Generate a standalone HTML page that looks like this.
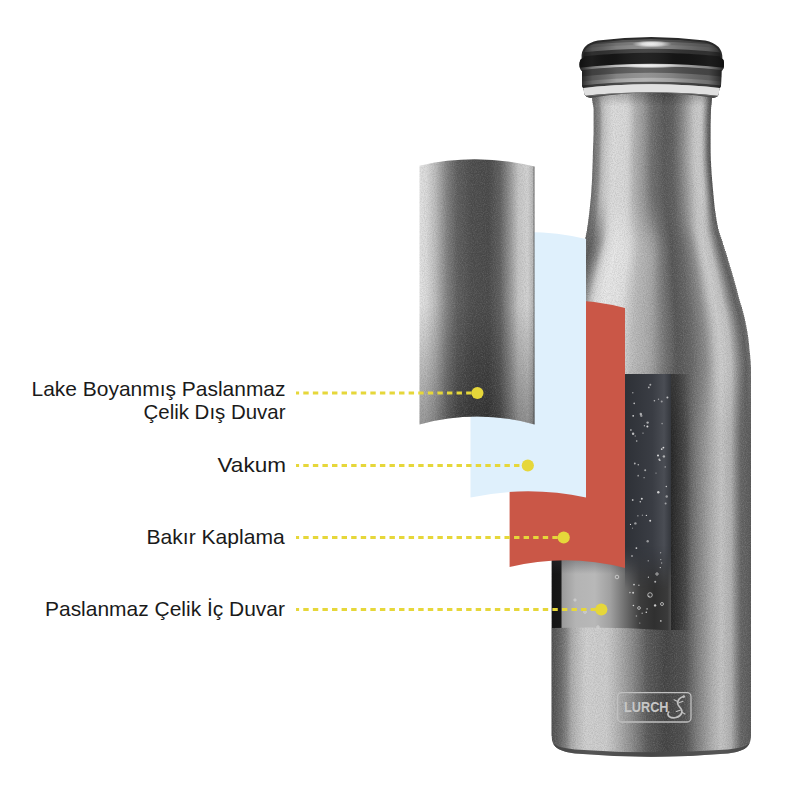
<!DOCTYPE html>
<html><head><meta charset="utf-8">
<style>
html,body{margin:0;padding:0;background:#fff;width:800px;height:800px;overflow:hidden}
svg{display:block}
text{font-family:"Liberation Sans",sans-serif;fill:#1a1a1a}
</style></head><body>
<svg width="800" height="800" viewBox="0 0 800 800">
<defs>
<linearGradient id="bn" x1="0" y1="0" x2="1" y2="0"><stop offset="0.000" stop-color="#6a6a6a"/><stop offset="0.025" stop-color="#7b7b7b"/><stop offset="0.050" stop-color="#8c8c8c"/><stop offset="0.075" stop-color="#b7b7b7"/><stop offset="0.100" stop-color="#c7c7c7"/><stop offset="0.125" stop-color="#d0d0d0"/><stop offset="0.150" stop-color="#d8d8d8"/><stop offset="0.175" stop-color="#dcdcdc"/><stop offset="0.200" stop-color="#dbdbdb"/><stop offset="0.225" stop-color="#dadada"/><stop offset="0.250" stop-color="#d9d9d9"/><stop offset="0.275" stop-color="#d8d8d8"/><stop offset="0.300" stop-color="#d2d2d2"/><stop offset="0.325" stop-color="#c3c3c3"/><stop offset="0.350" stop-color="#b4b4b4"/><stop offset="0.375" stop-color="#ababab"/><stop offset="0.400" stop-color="#a1a1a1"/><stop offset="0.425" stop-color="#989898"/><stop offset="0.450" stop-color="#8b8b8b"/><stop offset="0.475" stop-color="#7d7d7d"/><stop offset="0.500" stop-color="#707070"/><stop offset="0.525" stop-color="#6a6a6a"/><stop offset="0.550" stop-color="#656565"/><stop offset="0.575" stop-color="#606060"/><stop offset="0.600" stop-color="#5a5a5a"/><stop offset="0.625" stop-color="#5b5b5b"/><stop offset="0.650" stop-color="#5d5d5d"/><stop offset="0.675" stop-color="#606060"/><stop offset="0.700" stop-color="#6b6b6b"/><stop offset="0.725" stop-color="#767676"/><stop offset="0.750" stop-color="#848484"/><stop offset="0.775" stop-color="#939393"/><stop offset="0.800" stop-color="#a2a2a2"/><stop offset="0.825" stop-color="#b2b2b2"/><stop offset="0.850" stop-color="#c2c2c2"/><stop offset="0.875" stop-color="#c9c9c9"/><stop offset="0.900" stop-color="#cbcbcb"/><stop offset="0.925" stop-color="#c4c4c4"/><stop offset="0.950" stop-color="#9c9c9c"/><stop offset="0.975" stop-color="#6d6d6d"/><stop offset="1.000" stop-color="#505050"/></linearGradient>
<linearGradient id="bs" x1="0" y1="0" x2="1" y2="0"><stop offset="0.000" stop-color="#606060"/><stop offset="0.025" stop-color="#5e5e5e"/><stop offset="0.050" stop-color="#5b5b5b"/><stop offset="0.075" stop-color="#676767"/><stop offset="0.100" stop-color="#7c7c7c"/><stop offset="0.125" stop-color="#9d9d9d"/><stop offset="0.150" stop-color="#c7c7c7"/><stop offset="0.175" stop-color="#dcdcdc"/><stop offset="0.200" stop-color="#e3e3e3"/><stop offset="0.225" stop-color="#e8e8e8"/><stop offset="0.250" stop-color="#e6e6e6"/><stop offset="0.275" stop-color="#e5e5e5"/><stop offset="0.300" stop-color="#e3e3e3"/><stop offset="0.325" stop-color="#e0e0e0"/><stop offset="0.350" stop-color="#d4d4d4"/><stop offset="0.375" stop-color="#c8c8c8"/><stop offset="0.400" stop-color="#bcbcbc"/><stop offset="0.425" stop-color="#b6b6b6"/><stop offset="0.450" stop-color="#b1b1b1"/><stop offset="0.475" stop-color="#ababab"/><stop offset="0.500" stop-color="#a1a1a1"/><stop offset="0.525" stop-color="#909090"/><stop offset="0.550" stop-color="#7e7e7e"/><stop offset="0.575" stop-color="#707070"/><stop offset="0.600" stop-color="#646464"/><stop offset="0.625" stop-color="#575757"/><stop offset="0.650" stop-color="#5a5a5a"/><stop offset="0.675" stop-color="#606060"/><stop offset="0.700" stop-color="#666666"/><stop offset="0.725" stop-color="#727272"/><stop offset="0.750" stop-color="#7e7e7e"/><stop offset="0.775" stop-color="#8d8d8d"/><stop offset="0.800" stop-color="#a7a7a7"/><stop offset="0.825" stop-color="#c1c1c1"/><stop offset="0.850" stop-color="#cdcdcd"/><stop offset="0.875" stop-color="#c7c7c7"/><stop offset="0.900" stop-color="#c0c0c0"/><stop offset="0.925" stop-color="#9b9b9b"/><stop offset="0.950" stop-color="#777777"/><stop offset="0.975" stop-color="#5f5f5f"/><stop offset="1.000" stop-color="#707070"/></linearGradient>
<linearGradient id="bb" x1="0" y1="0" x2="1" y2="0"><stop offset="0.000" stop-color="#505050"/><stop offset="0.025" stop-color="#5b5b5b"/><stop offset="0.050" stop-color="#6c6c6c"/><stop offset="0.075" stop-color="#858585"/><stop offset="0.100" stop-color="#aaaaaa"/><stop offset="0.125" stop-color="#bababa"/><stop offset="0.150" stop-color="#c6c6c6"/><stop offset="0.175" stop-color="#d0d0d0"/><stop offset="0.200" stop-color="#cfcfcf"/><stop offset="0.225" stop-color="#cecece"/><stop offset="0.250" stop-color="#cdcdcd"/><stop offset="0.275" stop-color="#cccccc"/><stop offset="0.300" stop-color="#c2c2c2"/><stop offset="0.325" stop-color="#b6b6b6"/><stop offset="0.350" stop-color="#a9a9a9"/><stop offset="0.375" stop-color="#9b9b9b"/><stop offset="0.400" stop-color="#8e8e8e"/><stop offset="0.425" stop-color="#7e7e7e"/><stop offset="0.450" stop-color="#6e6e6e"/><stop offset="0.475" stop-color="#5d5d5d"/><stop offset="0.500" stop-color="#555555"/><stop offset="0.525" stop-color="#505050"/><stop offset="0.550" stop-color="#4a4a4a"/><stop offset="0.575" stop-color="#454545"/><stop offset="0.600" stop-color="#484848"/><stop offset="0.625" stop-color="#4b4b4b"/><stop offset="0.650" stop-color="#4e4e4e"/><stop offset="0.675" stop-color="#545454"/><stop offset="0.700" stop-color="#676767"/><stop offset="0.725" stop-color="#7a7a7a"/><stop offset="0.750" stop-color="#8b8b8b"/><stop offset="0.775" stop-color="#9b9b9b"/><stop offset="0.800" stop-color="#acacac"/><stop offset="0.825" stop-color="#b8b8b8"/><stop offset="0.850" stop-color="#c4c4c4"/><stop offset="0.875" stop-color="#bababa"/><stop offset="0.900" stop-color="#b0b0b0"/><stop offset="0.925" stop-color="#888888"/><stop offset="0.950" stop-color="#656565"/><stop offset="0.975" stop-color="#606060"/><stop offset="1.000" stop-color="#5a5a5a"/></linearGradient>
  <linearGradient id="gSilver" x1="419.5" y1="0" x2="534.5" y2="0" gradientUnits="userSpaceOnUse">
    <stop offset="0" stop-color="#e2e2e2"/>
    <stop offset="0.06" stop-color="#dadada"/>
    <stop offset="0.14" stop-color="#bababa"/>
    <stop offset="0.24" stop-color="#808080"/>
    <stop offset="0.33" stop-color="#5e5e5e"/>
    <stop offset="0.45" stop-color="#4e4e4e"/>
    <stop offset="0.6" stop-color="#4a4a4a"/>
    <stop offset="0.7" stop-color="#606060"/>
    <stop offset="0.78" stop-color="#909090"/>
    <stop offset="0.86" stop-color="#c6c6c6"/>
    <stop offset="0.94" stop-color="#d2d2d2"/>
    <stop offset="0.985" stop-color="#b8b8b8"/>
    <stop offset="1" stop-color="#606060"/>
  </linearGradient>
  <linearGradient id="gShadeV" x1="0" y1="159" x2="0" y2="424" gradientUnits="userSpaceOnUse">
    <stop offset="0" stop-color="#000" stop-opacity="0"/>
    <stop offset="0.55" stop-color="#000" stop-opacity="0"/>
    <stop offset="1" stop-color="#000" stop-opacity="0.32"/>
  </linearGradient>
  <linearGradient id="gGlass" x1="552" y1="0" x2="671" y2="0" gradientUnits="userSpaceOnUse">
    <stop offset="0" stop-color="#141414"/>
    <stop offset="0.075" stop-color="#181818"/>
    <stop offset="0.085" stop-color="#9a9a9a"/>
    <stop offset="0.2" stop-color="#b4b4b4"/>
    <stop offset="0.36" stop-color="#b8b8b8"/>
    <stop offset="0.49" stop-color="#a0a0a0"/>
    <stop offset="0.61" stop-color="#707070"/>
    <stop offset="0.74" stop-color="#3c3c3c"/>
    <stop offset="0.86" stop-color="#303030"/>
    <stop offset="0.97" stop-color="#3a3a3a"/>
    <stop offset="1" stop-color="#505050"/>
  </linearGradient>
  <linearGradient id="gGlassTopDark" x1="0" y1="374" x2="0" y2="574" gradientUnits="userSpaceOnUse">
    <stop offset="0" stop-color="#33363d" stop-opacity="1"/>
    <stop offset="0.8" stop-color="#33363d" stop-opacity="1"/>
    <stop offset="1" stop-color="#33363d" stop-opacity="0"/>
  </linearGradient>
  <linearGradient id="gDark" x1="625" y1="0" x2="671" y2="0" gradientUnits="userSpaceOnUse">
    <stop offset="0" stop-color="#2e3137"/>
    <stop offset="0.6" stop-color="#3a3d44"/>
    <stop offset="0.85" stop-color="#4a4d54"/>
    <stop offset="1" stop-color="#34373d"/>
  </linearGradient>
  <linearGradient id="gFadeV" x1="0" y1="374" x2="0" y2="630" gradientUnits="userSpaceOnUse">
    <stop offset="0" stop-color="#fff"/>
    <stop offset="0.67" stop-color="#fff"/>
    <stop offset="0.84" stop-color="#fff" stop-opacity="0"/>
  </linearGradient>
  <mask id="mTopFade" maskUnits="userSpaceOnUse" x="600" y="370" width="100" height="270">
    <rect x="600" y="370" width="100" height="270" fill="url(#gFadeV)"/>
  </mask>
  <linearGradient id="gShadowR" x1="671" y1="0" x2="691" y2="0" gradientUnits="userSpaceOnUse">
    <stop offset="0" stop-color="#000" stop-opacity="0.45"/>
    <stop offset="1" stop-color="#000" stop-opacity="0"/>
  </linearGradient>
  <linearGradient id="gNeckTop" x1="0" y1="92" x2="0" y2="106" gradientUnits="userSpaceOnUse">
    <stop offset="0" stop-color="#000" stop-opacity="0.25"/>
    <stop offset="1" stop-color="#000" stop-opacity="0"/>
  </linearGradient>
  <linearGradient id="gBandV" x1="0" y1="60" x2="0" y2="93" gradientUnits="userSpaceOnUse">
    <stop offset="0" stop-color="#555"/>
    <stop offset="0.3" stop-color="#a8a8a8"/>
    <stop offset="0.42" stop-color="#dcdcdc"/>
    <stop offset="0.55" stop-color="#c8c8c8"/>
    <stop offset="0.72" stop-color="#8a8a8a"/>
    <stop offset="0.9" stop-color="#b0b0b0"/>
    <stop offset="1" stop-color="#777"/>
  </linearGradient>
  <linearGradient id="gDomeV" x1="0" y1="37" x2="0" y2="62" gradientUnits="userSpaceOnUse">
    <stop offset="0" stop-color="#777"/>
    <stop offset="0.2" stop-color="#c8c8c8"/>
    <stop offset="0.45" stop-color="#e0e0e0"/>
    <stop offset="0.7" stop-color="#a0a0a0"/>
    <stop offset="1" stop-color="#666"/>
  </linearGradient>
  <linearGradient id="gEdgeH" x1="581" y1="0" x2="723" y2="0" gradientUnits="userSpaceOnUse">
    <stop offset="0" stop-color="#111" stop-opacity="0.85"/>
    <stop offset="0.08" stop-color="#222" stop-opacity="0.5"/>
    <stop offset="0.25" stop-color="#000" stop-opacity="0.08"/>
    <stop offset="0.45" stop-color="#fff" stop-opacity="0.05"/>
    <stop offset="0.65" stop-color="#000" stop-opacity="0.1"/>
    <stop offset="0.9" stop-color="#222" stop-opacity="0.45"/>
    <stop offset="1" stop-color="#111" stop-opacity="0.85"/>
  </linearGradient>
  <linearGradient id="gBottom" x1="551" y1="0" x2="751.5" y2="0" gradientUnits="userSpaceOnUse">
    <stop offset="0" stop-color="#444"/>
    <stop offset="0.2" stop-color="#555"/>
    <stop offset="0.5" stop-color="#474747"/>
    <stop offset="0.85" stop-color="#555"/>
    <stop offset="1" stop-color="#444"/>
  </linearGradient>
  <linearGradient id="gCap" x1="581" y1="0" x2="723" y2="0" gradientUnits="userSpaceOnUse">
    <stop offset="0" stop-color="#333"/>
    <stop offset="0.1" stop-color="#888"/>
    <stop offset="0.3" stop-color="#ccc"/>
    <stop offset="0.5" stop-color="#e8e8e8"/>
    <stop offset="0.7" stop-color="#aaa"/>
    <stop offset="0.9" stop-color="#777"/>
    <stop offset="1" stop-color="#333"/>
  </linearGradient>
  <filter id="fNoise" x="0" y="0" width="100%" height="100%" filterUnits="objectBoundingBox">
    <feTurbulence type="fractalNoise" baseFrequency="0.9" numOctaves="2" seed="3" result="n"/>
    <feColorMatrix in="n" type="matrix" values="0 0 0 0 0  0 0 0 0 0  0 0 0 0 0  1.6 0 0 0 -0.55"/>
  </filter>
  <filter id="fNoise2" x="0" y="0" width="100%" height="100%" filterUnits="objectBoundingBox">
    <feTurbulence type="fractalNoise" baseFrequency="0.9" numOctaves="2" seed="5" result="n"/>
    <feColorMatrix in="n" type="matrix" values="0 0 0 0 1  0 0 0 0 1  0 0 0 0 1  0 1.6 0 0 -0.62"/>
  </filter>
  <radialGradient id="gHi" cx="0.5" cy="0.5" r="0.5">
    <stop offset="0" stop-color="#f4f4f4" stop-opacity="1"/>
    <stop offset="0.5" stop-color="#f0f0f0" stop-opacity="0.8"/>
    <stop offset="1" stop-color="#f0f0f0" stop-opacity="0"/>
  </radialGradient>
  <clipPath id="cpOutline"><path d="M592.0,89 L592.0,93 L592.0,97 L592.2,101 L593.0,105 L593.6,109 L593.6,113 L593.6,117 L593.6,121 L593.6,125 L593.6,129 L593.6,133 L593.5,137 L593.3,141 L593.2,145 L593.0,149 L592.9,153 L592.8,157 L592.7,161 L592.6,165 L592.4,169 L592.3,173 L592.1,177 L591.9,181 L591.7,185 L591.5,189 L591.2,193 L590.9,197 L590.5,201 L590.1,205 L589.7,209 L589.3,213 L588.8,217 L588.3,221 L587.8,225 L587.2,229 L586.5,233 L585.7,237 L584.7,241 L583.5,245 L582.2,249 L580.7,253 L579.3,257 L577.8,261 L576.3,265 L574.9,269 L573.5,273 L572.1,277 L570.8,281 L569.5,285 L568.3,289 L567.1,293 L565.9,297 L564.7,301 L563.5,305 L562.3,309 L561.2,313 L560.2,317 L559.2,321 L558.2,325 L557.2,329 L556.5,333 L555.9,337 L555.3,341 L554.7,345 L554.1,349 L553.7,353 L553.3,357 L552.9,361 L552.4,365 L552.0,369 L551.9,373 L551.8,377 L551.7,381 L551.6,385 L551.6,389 L551.5,393 L551.5,397 L551.5,401 L551.5,405 L551.5,409 L551.5,413 L551.5,417 L551.5,421 L551.5,425 L551.5,429 L551.5,433 L551.5,437 L551.5,441 L551.5,445 L551.5,449 L551.5,453 L551.5,457 L551.5,461 L551.5,465 L551.5,469 L551.5,473 L551.5,477 L551.5,481 L551.5,485 L551.5,489 L551.5,493 L551.5,497 L551.5,501 L551.5,505 L551.5,509 L551.5,513 L551.5,517 L551.5,521 L551.5,525 L551.5,529 L551.5,533 L551.5,537 L551.5,541 L551.5,545 L551.5,549 L551.5,553 L551.5,557 L551.5,561 L551.5,565 L551.5,569 L551.5,573 L551.5,577 L551.5,581 L551.5,585 L551.5,589 L551.5,593 L551.5,597 L551.5,601 L551.5,605 L551.5,609 L551.5,613 L551.5,617 L551.5,621 L551.5,625 L551.5,629 L551.5,633 L551.5,637 L551.5,641 L551.5,645 L551.5,649 L551.5,653 L551.5,657 L551.5,661 L551.5,665 L551.5,669 L551.5,673 L551.5,677 L551.5,681 L551.5,685 L551.5,689 L551.5,693 L551.5,697 L551.5,701 L551.5,705 L551.5,709 L551.5,713 L551.5,717 L551.5,721 L551.5,725 L551.5,729 L551.5,733 C551.5,747 558,751 575,753.5 Q651,760 728,753.5 C745,751 750.5,747 751,736 L751.0,733 L751.0,729 L751.0,725 L751.0,721 L751.0,717 L751.0,713 L751.0,709 L751.0,705 L751.0,701 L751.0,697 L751.0,693 L751.0,689 L751.0,685 L751.0,681 L751.0,677 L751.0,673 L751.0,669 L751.0,665 L751.0,661 L751.0,657 L751.0,653 L751.0,649 L751.0,645 L751.0,641 L751.0,637 L751.0,633 L751.0,629 L751.0,625 L751.0,621 L751.0,617 L751.0,613 L751.0,609 L751.0,605 L751.0,601 L751.0,597 L751.0,593 L751.0,589 L751.0,585 L751.0,581 L751.0,577 L751.0,573 L751.0,569 L751.0,565 L751.0,561 L751.0,557 L751.0,553 L751.0,549 L751.0,545 L751.0,541 L751.0,537 L751.0,533 L751.0,529 L751.0,525 L751.0,521 L751.0,517 L751.0,513 L751.0,509 L751.0,505 L751.0,501 L751.0,497 L751.0,493 L751.0,489 L751.0,485 L751.0,481 L751.0,477 L751.0,473 L751.0,469 L751.0,465 L751.0,461 L751.0,457 L751.0,453 L751.0,449 L751.0,445 L751.0,441 L751.0,437 L751.0,433 L751.0,429 L751.0,425 L751.0,421 L751.0,417 L751.0,413 L751.0,409 L751.0,405 L751.0,401 L751.0,397 L751.0,393 L751.0,389 L751.0,385 L751.0,381 L751.0,377 L751.0,373 L751.0,369 L750.8,365 L750.6,361 L750.2,357 L749.8,353 L749.4,349 L749.0,345 L748.6,341 L748.1,337 L747.5,333 L746.8,329 L746.1,325 L745.2,321 L744.3,317 L743.3,313 L742.2,309 L741.0,305 L739.8,301 L738.7,297 L737.6,293 L736.6,289 L735.5,285 L734.4,281 L733.3,277 L732.1,273 L730.9,269 L729.7,265 L728.4,261 L727.1,257 L725.9,253 L724.6,249 L723.3,245 L722.0,241 L720.7,237 L719.3,233 L718.3,229 L717.4,225 L716.7,221 L716.0,217 L715.4,213 L714.9,209 L714.4,205 L714.0,201 L713.6,197 L713.3,193 L712.9,189 L712.5,185 L712.2,181 L711.9,177 L711.6,173 L711.3,169 L711.1,165 L710.9,161 L710.7,157 L710.6,153 L710.6,149 L710.6,145 L710.6,141 L710.6,137 L710.6,133 L710.6,129 L710.6,125 L710.7,121 L710.8,117 L710.9,113 L711.0,109 L711.4,105 L711.9,101 L712.0,97 L712.0,93 L712.0,89 Z"/></clipPath>
  <clipPath id="cpBottle">
    <path d="M540,80 H770 V736 H751 C750.5,747 745,751 728,753.5 Q651,760 575,753.5 C558,751 552,747 551.5,736 H540 Z"/>
  </clipPath>
</defs>

<!-- bottle body slices -->
<g clip-path="url(#cpBottle)">
<rect x="592.0" y="89" width="120.0" height="2" fill="url(#bn)"/>
<rect x="592.0" y="91" width="120.0" height="2" fill="url(#bn)"/>
<rect x="592.0" y="93" width="120.0" height="2" fill="url(#bn)"/>
<rect x="592.0" y="95" width="120.0" height="2" fill="url(#bn)"/>
<rect x="592.0" y="97" width="120.0" height="2" fill="url(#bn)"/>
<rect x="592.1" y="99" width="119.8" height="2" fill="url(#bn)"/>
<rect x="592.4" y="101" width="119.4" height="2" fill="url(#bn)"/>
<rect x="592.8" y="103" width="118.8" height="2" fill="url(#bn)"/>
<rect x="593.2" y="105" width="118.1" height="2" fill="url(#bn)"/>
<rect x="593.5" y="107" width="117.6" height="2" fill="url(#bn)"/>
<rect x="593.6" y="109" width="117.4" height="2" fill="url(#bn)"/>
<rect x="593.6" y="111" width="117.3" height="2" fill="url(#bn)"/>
<rect x="593.6" y="113" width="117.3" height="2" fill="url(#bn)"/>
<rect x="593.6" y="115" width="117.2" height="2" fill="url(#bn)"/>
<rect x="593.6" y="117" width="117.2" height="2" fill="url(#bn)"/>
<rect x="593.6" y="119" width="117.1" height="2" fill="url(#bn)"/>
<rect x="593.6" y="121" width="117.1" height="2" fill="url(#bn)"/>
<rect x="593.6" y="123" width="117.0" height="2" fill="url(#bn)"/>
<rect x="593.6" y="125" width="117.0" height="2" fill="url(#bn)"/>
<rect x="593.6" y="127" width="117.0" height="2" fill="url(#bn)"/>
<rect x="593.6" y="129" width="117.0" height="2" fill="url(#bn)"/>
<rect x="593.6" y="131" width="117.0" height="2" fill="url(#bn)"/>
<rect x="593.6" y="133" width="117.0" height="2" fill="url(#bn)"/>
<rect x="593.5" y="135" width="117.1" height="2" fill="url(#bn)"/>
<rect x="593.4" y="137" width="117.2" height="2" fill="url(#bn)"/>
<rect x="593.4" y="139" width="117.2" height="2" fill="url(#bn)"/>
<rect x="593.3" y="141" width="117.3" height="2" fill="url(#bn)"/>
<rect x="593.2" y="143" width="117.4" height="2" fill="url(#bn)"/>
<rect x="593.1" y="145" width="117.5" height="2" fill="url(#bn)"/>
<rect x="593.1" y="147" width="117.5" height="2" fill="url(#bn)"/>
<rect x="593.0" y="149" width="117.6" height="2" fill="url(#bn)"/>
<rect x="592.9" y="151" width="117.7" height="2" fill="url(#bn)"/>
<rect x="592.9" y="153" width="117.8" height="2" fill="url(#bn)"/>
<rect x="592.8" y="155" width="117.9" height="2" fill="url(#bn)"/>
<rect x="592.8" y="157" width="118.0" height="2" fill="url(#bn)"/>
<rect x="592.7" y="159" width="118.1" height="2" fill="url(#bn)"/>
<rect x="592.7" y="161" width="118.3" height="2" fill="url(#bn)"/>
<rect x="592.6" y="163" width="118.5" height="2" fill="url(#bn)"/>
<rect x="592.5" y="165" width="118.6" height="2" fill="url(#bn)"/>
<rect x="592.5" y="167" width="118.8" height="2" fill="url(#bn)"/>
<rect x="592.4" y="169" width="119.0" height="2" fill="url(#bn)"/>
<rect x="592.3" y="171" width="119.2" height="2" fill="url(#bn)"/>
<rect x="592.2" y="173" width="119.4" height="2" fill="url(#bn)"/>
<rect x="592.2" y="175" width="119.6" height="2" fill="url(#bn)"/>
<rect x="592.1" y="177" width="119.9" height="2" fill="url(#bn)"/>
<rect x="592.0" y="179" width="120.1" height="2" fill="url(#bn)"/>
<rect x="591.9" y="181" width="120.4" height="2" fill="url(#bn)"/>
<rect x="591.8" y="183" width="120.7" height="2" fill="url(#bn)"/>
<rect x="591.6" y="185" width="121.0" height="2" fill="url(#bn)"/>
<rect x="591.5" y="187" width="121.3" height="2" fill="url(#bn)"/>
<rect x="591.4" y="189" width="121.6" height="2" fill="url(#bn)"/>
<rect x="591.3" y="191" width="121.9" height="2" fill="url(#bn)"/>
<rect x="591.3" y="191" width="121.9" height="2" fill="url(#bs)" fill-opacity="0.002"/>
<rect x="591.1" y="193" width="122.2" height="2" fill="url(#bn)"/>
<rect x="591.1" y="193" width="122.2" height="2" fill="url(#bs)" fill-opacity="0.009"/>
<rect x="591.0" y="195" width="122.6" height="2" fill="url(#bn)"/>
<rect x="591.0" y="195" width="122.6" height="2" fill="url(#bs)" fill-opacity="0.021"/>
<rect x="590.8" y="197" width="122.9" height="2" fill="url(#bn)"/>
<rect x="590.8" y="197" width="122.9" height="2" fill="url(#bs)" fill-opacity="0.036"/>
<rect x="590.6" y="199" width="123.3" height="2" fill="url(#bn)"/>
<rect x="590.6" y="199" width="123.3" height="2" fill="url(#bs)" fill-opacity="0.055"/>
<rect x="590.4" y="201" width="123.7" height="2" fill="url(#bn)"/>
<rect x="590.4" y="201" width="123.7" height="2" fill="url(#bs)" fill-opacity="0.078"/>
<rect x="590.2" y="203" width="124.1" height="2" fill="url(#bn)"/>
<rect x="590.2" y="203" width="124.1" height="2" fill="url(#bs)" fill-opacity="0.104"/>
<rect x="590.0" y="205" width="124.5" height="2" fill="url(#bn)"/>
<rect x="590.0" y="205" width="124.5" height="2" fill="url(#bs)" fill-opacity="0.133"/>
<rect x="589.8" y="207" width="124.9" height="2" fill="url(#bn)"/>
<rect x="589.8" y="207" width="124.9" height="2" fill="url(#bs)" fill-opacity="0.164"/>
<rect x="589.6" y="209" width="125.4" height="2" fill="url(#bn)"/>
<rect x="589.6" y="209" width="125.4" height="2" fill="url(#bs)" fill-opacity="0.198"/>
<rect x="589.4" y="211" width="125.9" height="2" fill="url(#bn)"/>
<rect x="589.4" y="211" width="125.9" height="2" fill="url(#bs)" fill-opacity="0.234"/>
<rect x="589.2" y="213" width="126.4" height="2" fill="url(#bn)"/>
<rect x="589.2" y="213" width="126.4" height="2" fill="url(#bs)" fill-opacity="0.272"/>
<rect x="588.9" y="215" width="126.9" height="2" fill="url(#bn)"/>
<rect x="588.9" y="215" width="126.9" height="2" fill="url(#bs)" fill-opacity="0.311"/>
<rect x="588.7" y="217" width="127.5" height="2" fill="url(#bn)"/>
<rect x="588.7" y="217" width="127.5" height="2" fill="url(#bs)" fill-opacity="0.352"/>
<rect x="588.4" y="219" width="128.0" height="2" fill="url(#bn)"/>
<rect x="588.4" y="219" width="128.0" height="2" fill="url(#bs)" fill-opacity="0.394"/>
<rect x="588.2" y="221" width="128.7" height="2" fill="url(#bn)"/>
<rect x="588.2" y="221" width="128.7" height="2" fill="url(#bs)" fill-opacity="0.436"/>
<rect x="587.9" y="223" width="129.3" height="2" fill="url(#bn)"/>
<rect x="587.9" y="223" width="129.3" height="2" fill="url(#bs)" fill-opacity="0.479"/>
<rect x="587.6" y="225" width="130.0" height="2" fill="url(#bn)"/>
<rect x="587.6" y="225" width="130.0" height="2" fill="url(#bs)" fill-opacity="0.521"/>
<rect x="587.3" y="227" width="130.7" height="2" fill="url(#bn)"/>
<rect x="587.3" y="227" width="130.7" height="2" fill="url(#bs)" fill-opacity="0.564"/>
<rect x="587.0" y="229" width="131.5" height="2" fill="url(#bn)"/>
<rect x="587.0" y="229" width="131.5" height="2" fill="url(#bs)" fill-opacity="0.606"/>
<rect x="586.7" y="231" width="132.4" height="2" fill="url(#bn)"/>
<rect x="586.7" y="231" width="132.4" height="2" fill="url(#bs)" fill-opacity="0.648"/>
<rect x="586.3" y="233" width="133.4" height="2" fill="url(#bn)"/>
<rect x="586.3" y="233" width="133.4" height="2" fill="url(#bs)" fill-opacity="0.689"/>
<rect x="585.9" y="235" width="134.4" height="2" fill="url(#bn)"/>
<rect x="585.9" y="235" width="134.4" height="2" fill="url(#bs)" fill-opacity="0.728"/>
<rect x="585.5" y="237" width="135.6" height="2" fill="url(#bn)"/>
<rect x="585.5" y="237" width="135.6" height="2" fill="url(#bs)" fill-opacity="0.766"/>
<rect x="585.0" y="239" width="136.7" height="2" fill="url(#bn)"/>
<rect x="585.0" y="239" width="136.7" height="2" fill="url(#bs)" fill-opacity="0.802"/>
<rect x="584.5" y="241" width="137.9" height="2" fill="url(#bn)"/>
<rect x="584.5" y="241" width="137.9" height="2" fill="url(#bs)" fill-opacity="0.836"/>
<rect x="583.9" y="243" width="139.1" height="2" fill="url(#bn)"/>
<rect x="583.9" y="243" width="139.1" height="2" fill="url(#bs)" fill-opacity="0.867"/>
<rect x="583.2" y="245" width="140.4" height="2" fill="url(#bn)"/>
<rect x="583.2" y="245" width="140.4" height="2" fill="url(#bs)" fill-opacity="0.896"/>
<rect x="582.5" y="247" width="141.7" height="2" fill="url(#bn)"/>
<rect x="582.5" y="247" width="141.7" height="2" fill="url(#bs)" fill-opacity="0.922"/>
<rect x="581.8" y="249" width="143.1" height="2" fill="url(#bn)"/>
<rect x="581.8" y="249" width="143.1" height="2" fill="url(#bs)" fill-opacity="0.945"/>
<rect x="581.1" y="251" width="144.5" height="2" fill="url(#bn)"/>
<rect x="581.1" y="251" width="144.5" height="2" fill="url(#bs)" fill-opacity="0.964"/>
<rect x="580.4" y="253" width="145.8" height="2" fill="url(#bn)"/>
<rect x="580.4" y="253" width="145.8" height="2" fill="url(#bs)" fill-opacity="0.979"/>
<rect x="579.6" y="255" width="147.2" height="2" fill="url(#bn)"/>
<rect x="579.6" y="255" width="147.2" height="2" fill="url(#bs)" fill-opacity="0.991"/>
<rect x="578.9" y="257" width="148.5" height="2" fill="url(#bn)"/>
<rect x="578.9" y="257" width="148.5" height="2" fill="url(#bs)" fill-opacity="0.998"/>
<rect x="578.2" y="259" width="149.9" height="2" fill="url(#bs)"/>
<rect x="577.4" y="261" width="151.3" height="2" fill="url(#bs)"/>
<rect x="576.7" y="263" width="152.7" height="2" fill="url(#bs)"/>
<rect x="575.9" y="265" width="154.0" height="2" fill="url(#bs)"/>
<rect x="575.2" y="267" width="155.4" height="2" fill="url(#bs)"/>
<rect x="574.5" y="269" width="156.7" height="2" fill="url(#bs)"/>
<rect x="573.8" y="271" width="158.0" height="2" fill="url(#bs)"/>
<rect x="573.1" y="273" width="159.3" height="2" fill="url(#bs)"/>
<rect x="572.4" y="275" width="160.5" height="2" fill="url(#bs)"/>
<rect x="571.8" y="277" width="161.8" height="2" fill="url(#bs)"/>
<rect x="571.1" y="279" width="163.0" height="2" fill="url(#bs)"/>
<rect x="570.5" y="281" width="164.2" height="2" fill="url(#bs)"/>
<rect x="569.8" y="283" width="165.4" height="2" fill="url(#bs)"/>
<rect x="569.2" y="285" width="166.6" height="2" fill="url(#bs)"/>
<rect x="568.6" y="287" width="167.7" height="2" fill="url(#bs)"/>
<rect x="568.0" y="289" width="168.9" height="2" fill="url(#bs)"/>
<rect x="567.4" y="291" width="170.0" height="2" fill="url(#bs)"/>
<rect x="566.8" y="293" width="171.1" height="2" fill="url(#bs)"/>
<rect x="566.2" y="295" width="172.2" height="2" fill="url(#bs)"/>
<rect x="565.6" y="297" width="173.3" height="2" fill="url(#bs)"/>
<rect x="565.0" y="299" width="174.5" height="2" fill="url(#bs)"/>
<rect x="564.4" y="301" width="175.7" height="2" fill="url(#bs)"/>
<rect x="563.8" y="303" width="176.9" height="2" fill="url(#bs)"/>
<rect x="563.2" y="305" width="178.2" height="2" fill="url(#bs)"/>
<rect x="562.6" y="307" width="179.4" height="2" fill="url(#bs)"/>
<rect x="562.0" y="309" width="180.5" height="2" fill="url(#bs)"/>
<rect x="561.5" y="311" width="181.6" height="2" fill="url(#bs)"/>
<rect x="561.0" y="313" width="182.6" height="2" fill="url(#bs)"/>
<rect x="560.5" y="315" width="183.6" height="2" fill="url(#bs)"/>
<rect x="560.0" y="317" width="184.6" height="2" fill="url(#bs)"/>
<rect x="559.5" y="319" width="185.5" height="2" fill="url(#bs)"/>
<rect x="559.0" y="321" width="186.5" height="2" fill="url(#bs)"/>
<rect x="558.4" y="323" width="187.4" height="2" fill="url(#bs)"/>
<rect x="557.9" y="325" width="188.4" height="2" fill="url(#bs)"/>
<rect x="557.4" y="327" width="189.2" height="2" fill="url(#bs)"/>
<rect x="557.0" y="329" width="190.0" height="2" fill="url(#bs)"/>
<rect x="556.7" y="331" width="190.7" height="2" fill="url(#bs)"/>
<rect x="556.3" y="333" width="191.3" height="2" fill="url(#bs)"/>
<rect x="556.1" y="335" width="191.9" height="2" fill="url(#bs)"/>
<rect x="555.8" y="337" width="192.5" height="2" fill="url(#bs)"/>
<rect x="555.5" y="339" width="193.0" height="2" fill="url(#bs)"/>
<rect x="555.2" y="341" width="193.5" height="2" fill="url(#bs)"/>
<rect x="554.9" y="343" width="194.1" height="2" fill="url(#bs)"/>
<rect x="554.6" y="345" width="194.6" height="2" fill="url(#bs)"/>
<rect x="554.3" y="347" width="195.0" height="2" fill="url(#bs)"/>
<rect x="554.0" y="349" width="195.5" height="2" fill="url(#bs)"/>
<rect x="553.8" y="351" width="195.9" height="2" fill="url(#bs)"/>
<rect x="553.6" y="353" width="196.4" height="2" fill="url(#bs)"/>
<rect x="553.4" y="355" width="196.8" height="2" fill="url(#bs)"/>
<rect x="553.2" y="357" width="197.1" height="2" fill="url(#bs)"/>
<rect x="553.0" y="359" width="197.5" height="2" fill="url(#bs)"/>
<rect x="552.8" y="361" width="197.9" height="2" fill="url(#bs)"/>
<rect x="552.8" y="361" width="197.9" height="2" fill="url(#bb)" fill-opacity="0.001"/>
<rect x="552.5" y="363" width="198.2" height="2" fill="url(#bs)"/>
<rect x="552.5" y="363" width="198.2" height="2" fill="url(#bb)" fill-opacity="0.006"/>
<rect x="552.3" y="365" width="198.6" height="2" fill="url(#bs)"/>
<rect x="552.3" y="365" width="198.6" height="2" fill="url(#bb)" fill-opacity="0.013"/>
<rect x="552.1" y="367" width="198.9" height="2" fill="url(#bs)"/>
<rect x="552.1" y="367" width="198.9" height="2" fill="url(#bb)" fill-opacity="0.022"/>
<rect x="552.0" y="369" width="199.0" height="2" fill="url(#bs)"/>
<rect x="552.0" y="369" width="199.0" height="2" fill="url(#bb)" fill-opacity="0.034"/>
<rect x="551.9" y="371" width="199.1" height="2" fill="url(#bs)"/>
<rect x="551.9" y="371" width="199.1" height="2" fill="url(#bb)" fill-opacity="0.049"/>
<rect x="551.9" y="373" width="199.1" height="2" fill="url(#bs)"/>
<rect x="551.9" y="373" width="199.1" height="2" fill="url(#bb)" fill-opacity="0.065"/>
<rect x="551.8" y="375" width="199.2" height="2" fill="url(#bs)"/>
<rect x="551.8" y="375" width="199.2" height="2" fill="url(#bb)" fill-opacity="0.084"/>
<rect x="551.8" y="377" width="199.2" height="2" fill="url(#bs)"/>
<rect x="551.8" y="377" width="199.2" height="2" fill="url(#bb)" fill-opacity="0.104"/>
<rect x="551.7" y="379" width="199.3" height="2" fill="url(#bs)"/>
<rect x="551.7" y="379" width="199.3" height="2" fill="url(#bb)" fill-opacity="0.126"/>
<rect x="551.7" y="381" width="199.3" height="2" fill="url(#bs)"/>
<rect x="551.7" y="381" width="199.3" height="2" fill="url(#bb)" fill-opacity="0.150"/>
<rect x="551.6" y="383" width="199.4" height="2" fill="url(#bs)"/>
<rect x="551.6" y="383" width="199.4" height="2" fill="url(#bb)" fill-opacity="0.175"/>
<rect x="551.6" y="385" width="199.4" height="2" fill="url(#bs)"/>
<rect x="551.6" y="385" width="199.4" height="2" fill="url(#bb)" fill-opacity="0.202"/>
<rect x="551.6" y="387" width="199.4" height="2" fill="url(#bs)"/>
<rect x="551.6" y="387" width="199.4" height="2" fill="url(#bb)" fill-opacity="0.230"/>
<rect x="551.6" y="389" width="199.4" height="2" fill="url(#bs)"/>
<rect x="551.6" y="389" width="199.4" height="2" fill="url(#bb)" fill-opacity="0.259"/>
<rect x="551.5" y="391" width="199.5" height="2" fill="url(#bs)"/>
<rect x="551.5" y="391" width="199.5" height="2" fill="url(#bb)" fill-opacity="0.289"/>
<rect x="551.5" y="393" width="199.5" height="2" fill="url(#bs)"/>
<rect x="551.5" y="393" width="199.5" height="2" fill="url(#bb)" fill-opacity="0.320"/>
<rect x="551.5" y="395" width="199.5" height="2" fill="url(#bs)"/>
<rect x="551.5" y="395" width="199.5" height="2" fill="url(#bb)" fill-opacity="0.352"/>
<rect x="551.5" y="397" width="199.5" height="2" fill="url(#bs)"/>
<rect x="551.5" y="397" width="199.5" height="2" fill="url(#bb)" fill-opacity="0.384"/>
<rect x="551.5" y="399" width="199.5" height="2" fill="url(#bs)"/>
<rect x="551.5" y="399" width="199.5" height="2" fill="url(#bb)" fill-opacity="0.417"/>
<rect x="551.5" y="401" width="199.5" height="2" fill="url(#bs)"/>
<rect x="551.5" y="401" width="199.5" height="2" fill="url(#bb)" fill-opacity="0.450"/>
<rect x="551.5" y="403" width="199.5" height="2" fill="url(#bs)"/>
<rect x="551.5" y="403" width="199.5" height="2" fill="url(#bb)" fill-opacity="0.483"/>
<rect x="551.5" y="405" width="199.5" height="2" fill="url(#bs)"/>
<rect x="551.5" y="405" width="199.5" height="2" fill="url(#bb)" fill-opacity="0.517"/>
<rect x="551.5" y="407" width="199.5" height="2" fill="url(#bs)"/>
<rect x="551.5" y="407" width="199.5" height="2" fill="url(#bb)" fill-opacity="0.550"/>
<rect x="551.5" y="409" width="199.5" height="2" fill="url(#bs)"/>
<rect x="551.5" y="409" width="199.5" height="2" fill="url(#bb)" fill-opacity="0.583"/>
<rect x="551.5" y="411" width="199.5" height="2" fill="url(#bs)"/>
<rect x="551.5" y="411" width="199.5" height="2" fill="url(#bb)" fill-opacity="0.616"/>
<rect x="551.5" y="413" width="199.5" height="2" fill="url(#bs)"/>
<rect x="551.5" y="413" width="199.5" height="2" fill="url(#bb)" fill-opacity="0.648"/>
<rect x="551.5" y="415" width="199.5" height="2" fill="url(#bs)"/>
<rect x="551.5" y="415" width="199.5" height="2" fill="url(#bb)" fill-opacity="0.680"/>
<rect x="551.5" y="417" width="199.5" height="2" fill="url(#bs)"/>
<rect x="551.5" y="417" width="199.5" height="2" fill="url(#bb)" fill-opacity="0.711"/>
<rect x="551.5" y="419" width="199.5" height="2" fill="url(#bs)"/>
<rect x="551.5" y="419" width="199.5" height="2" fill="url(#bb)" fill-opacity="0.741"/>
<rect x="551.5" y="421" width="199.5" height="2" fill="url(#bs)"/>
<rect x="551.5" y="421" width="199.5" height="2" fill="url(#bb)" fill-opacity="0.770"/>
<rect x="551.5" y="423" width="199.5" height="2" fill="url(#bs)"/>
<rect x="551.5" y="423" width="199.5" height="2" fill="url(#bb)" fill-opacity="0.798"/>
<rect x="551.5" y="425" width="199.5" height="2" fill="url(#bs)"/>
<rect x="551.5" y="425" width="199.5" height="2" fill="url(#bb)" fill-opacity="0.825"/>
<rect x="551.5" y="427" width="199.5" height="2" fill="url(#bs)"/>
<rect x="551.5" y="427" width="199.5" height="2" fill="url(#bb)" fill-opacity="0.850"/>
<rect x="551.5" y="429" width="199.5" height="2" fill="url(#bs)"/>
<rect x="551.5" y="429" width="199.5" height="2" fill="url(#bb)" fill-opacity="0.874"/>
<rect x="551.5" y="431" width="199.5" height="2" fill="url(#bs)"/>
<rect x="551.5" y="431" width="199.5" height="2" fill="url(#bb)" fill-opacity="0.896"/>
<rect x="551.5" y="433" width="199.5" height="2" fill="url(#bs)"/>
<rect x="551.5" y="433" width="199.5" height="2" fill="url(#bb)" fill-opacity="0.916"/>
<rect x="551.5" y="435" width="199.5" height="2" fill="url(#bs)"/>
<rect x="551.5" y="435" width="199.5" height="2" fill="url(#bb)" fill-opacity="0.935"/>
<rect x="551.5" y="437" width="199.5" height="2" fill="url(#bs)"/>
<rect x="551.5" y="437" width="199.5" height="2" fill="url(#bb)" fill-opacity="0.951"/>
<rect x="551.5" y="439" width="199.5" height="2" fill="url(#bs)"/>
<rect x="551.5" y="439" width="199.5" height="2" fill="url(#bb)" fill-opacity="0.966"/>
<rect x="551.5" y="441" width="199.5" height="2" fill="url(#bs)"/>
<rect x="551.5" y="441" width="199.5" height="2" fill="url(#bb)" fill-opacity="0.978"/>
<rect x="551.5" y="443" width="199.5" height="2" fill="url(#bs)"/>
<rect x="551.5" y="443" width="199.5" height="2" fill="url(#bb)" fill-opacity="0.987"/>
<rect x="551.5" y="445" width="199.5" height="2" fill="url(#bs)"/>
<rect x="551.5" y="445" width="199.5" height="2" fill="url(#bb)" fill-opacity="0.994"/>
<rect x="551.5" y="447" width="199.5" height="2" fill="url(#bs)"/>
<rect x="551.5" y="447" width="199.5" height="2" fill="url(#bb)" fill-opacity="0.999"/>
<rect x="551.5" y="449" width="199.5" height="2" fill="url(#bb)"/>
<rect x="551.5" y="451" width="199.5" height="2" fill="url(#bb)"/>
<rect x="551.5" y="453" width="199.5" height="2" fill="url(#bb)"/>
<rect x="551.5" y="455" width="199.5" height="2" fill="url(#bb)"/>
<rect x="551.5" y="457" width="199.5" height="2" fill="url(#bb)"/>
<rect x="551.5" y="459" width="199.5" height="2" fill="url(#bb)"/>
<rect x="551.5" y="461" width="199.5" height="2" fill="url(#bb)"/>
<rect x="551.5" y="463" width="199.5" height="2" fill="url(#bb)"/>
<rect x="551.5" y="465" width="199.5" height="2" fill="url(#bb)"/>
<rect x="551.5" y="467" width="199.5" height="2" fill="url(#bb)"/>
<rect x="551.5" y="469" width="199.5" height="2" fill="url(#bb)"/>
<rect x="551.5" y="471" width="199.5" height="2" fill="url(#bb)"/>
<rect x="551.5" y="473" width="199.5" height="2" fill="url(#bb)"/>
<rect x="551.5" y="475" width="199.5" height="2" fill="url(#bb)"/>
<rect x="551.5" y="477" width="199.5" height="2" fill="url(#bb)"/>
<rect x="551.5" y="479" width="199.5" height="2" fill="url(#bb)"/>
<rect x="551.5" y="481" width="199.5" height="2" fill="url(#bb)"/>
<rect x="551.5" y="483" width="199.5" height="2" fill="url(#bb)"/>
<rect x="551.5" y="485" width="199.5" height="2" fill="url(#bb)"/>
<rect x="551.5" y="487" width="199.5" height="2" fill="url(#bb)"/>
<rect x="551.5" y="489" width="199.5" height="2" fill="url(#bb)"/>
<rect x="551.5" y="491" width="199.5" height="2" fill="url(#bb)"/>
<rect x="551.5" y="493" width="199.5" height="2" fill="url(#bb)"/>
<rect x="551.5" y="495" width="199.5" height="2" fill="url(#bb)"/>
<rect x="551.5" y="497" width="199.5" height="2" fill="url(#bb)"/>
<rect x="551.5" y="499" width="199.5" height="2" fill="url(#bb)"/>
<rect x="551.5" y="501" width="199.5" height="2" fill="url(#bb)"/>
<rect x="551.5" y="503" width="199.5" height="2" fill="url(#bb)"/>
<rect x="551.5" y="505" width="199.5" height="2" fill="url(#bb)"/>
<rect x="551.5" y="507" width="199.5" height="2" fill="url(#bb)"/>
<rect x="551.5" y="509" width="199.5" height="2" fill="url(#bb)"/>
<rect x="551.5" y="511" width="199.5" height="2" fill="url(#bb)"/>
<rect x="551.5" y="513" width="199.5" height="2" fill="url(#bb)"/>
<rect x="551.5" y="515" width="199.5" height="2" fill="url(#bb)"/>
<rect x="551.5" y="517" width="199.5" height="2" fill="url(#bb)"/>
<rect x="551.5" y="519" width="199.5" height="2" fill="url(#bb)"/>
<rect x="551.5" y="521" width="199.5" height="2" fill="url(#bb)"/>
<rect x="551.5" y="523" width="199.5" height="2" fill="url(#bb)"/>
<rect x="551.5" y="525" width="199.5" height="2" fill="url(#bb)"/>
<rect x="551.5" y="527" width="199.5" height="2" fill="url(#bb)"/>
<rect x="551.5" y="529" width="199.5" height="2" fill="url(#bb)"/>
<rect x="551.5" y="531" width="199.5" height="2" fill="url(#bb)"/>
<rect x="551.5" y="533" width="199.5" height="2" fill="url(#bb)"/>
<rect x="551.5" y="535" width="199.5" height="2" fill="url(#bb)"/>
<rect x="551.5" y="537" width="199.5" height="2" fill="url(#bb)"/>
<rect x="551.5" y="539" width="199.5" height="2" fill="url(#bb)"/>
<rect x="551.5" y="541" width="199.5" height="2" fill="url(#bb)"/>
<rect x="551.5" y="543" width="199.5" height="2" fill="url(#bb)"/>
<rect x="551.5" y="545" width="199.5" height="2" fill="url(#bb)"/>
<rect x="551.5" y="547" width="199.5" height="2" fill="url(#bb)"/>
<rect x="551.5" y="549" width="199.5" height="2" fill="url(#bb)"/>
<rect x="551.5" y="551" width="199.5" height="2" fill="url(#bb)"/>
<rect x="551.5" y="553" width="199.5" height="2" fill="url(#bb)"/>
<rect x="551.5" y="555" width="199.5" height="2" fill="url(#bb)"/>
<rect x="551.5" y="557" width="199.5" height="2" fill="url(#bb)"/>
<rect x="551.5" y="559" width="199.5" height="2" fill="url(#bb)"/>
<rect x="551.5" y="561" width="199.5" height="2" fill="url(#bb)"/>
<rect x="551.5" y="563" width="199.5" height="2" fill="url(#bb)"/>
<rect x="551.5" y="565" width="199.5" height="2" fill="url(#bb)"/>
<rect x="551.5" y="567" width="199.5" height="2" fill="url(#bb)"/>
<rect x="551.5" y="569" width="199.5" height="2" fill="url(#bb)"/>
<rect x="551.5" y="571" width="199.5" height="2" fill="url(#bb)"/>
<rect x="551.5" y="573" width="199.5" height="2" fill="url(#bb)"/>
<rect x="551.5" y="575" width="199.5" height="2" fill="url(#bb)"/>
<rect x="551.5" y="577" width="199.5" height="2" fill="url(#bb)"/>
<rect x="551.5" y="579" width="199.5" height="2" fill="url(#bb)"/>
<rect x="551.5" y="581" width="199.5" height="2" fill="url(#bb)"/>
<rect x="551.5" y="583" width="199.5" height="2" fill="url(#bb)"/>
<rect x="551.5" y="585" width="199.5" height="2" fill="url(#bb)"/>
<rect x="551.5" y="587" width="199.5" height="2" fill="url(#bb)"/>
<rect x="551.5" y="589" width="199.5" height="2" fill="url(#bb)"/>
<rect x="551.5" y="591" width="199.5" height="2" fill="url(#bb)"/>
<rect x="551.5" y="593" width="199.5" height="2" fill="url(#bb)"/>
<rect x="551.5" y="595" width="199.5" height="2" fill="url(#bb)"/>
<rect x="551.5" y="597" width="199.5" height="2" fill="url(#bb)"/>
<rect x="551.5" y="599" width="199.5" height="2" fill="url(#bb)"/>
<rect x="551.5" y="601" width="199.5" height="2" fill="url(#bb)"/>
<rect x="551.5" y="603" width="199.5" height="2" fill="url(#bb)"/>
<rect x="551.5" y="605" width="199.5" height="2" fill="url(#bb)"/>
<rect x="551.5" y="607" width="199.5" height="2" fill="url(#bb)"/>
<rect x="551.5" y="609" width="199.5" height="2" fill="url(#bb)"/>
<rect x="551.5" y="611" width="199.5" height="2" fill="url(#bb)"/>
<rect x="551.5" y="613" width="199.5" height="2" fill="url(#bb)"/>
<rect x="551.5" y="615" width="199.5" height="2" fill="url(#bb)"/>
<rect x="551.5" y="617" width="199.5" height="2" fill="url(#bb)"/>
<rect x="551.5" y="619" width="199.5" height="2" fill="url(#bb)"/>
<rect x="551.5" y="621" width="199.5" height="2" fill="url(#bb)"/>
<rect x="551.5" y="623" width="199.5" height="2" fill="url(#bb)"/>
<rect x="551.5" y="625" width="199.5" height="2" fill="url(#bb)"/>
<rect x="551.5" y="627" width="199.5" height="2" fill="url(#bb)"/>
<rect x="551.5" y="629" width="199.5" height="2" fill="url(#bb)"/>
<rect x="551.5" y="631" width="199.5" height="2" fill="url(#bb)"/>
<rect x="551.5" y="633" width="199.5" height="2" fill="url(#bb)"/>
<rect x="551.5" y="635" width="199.5" height="2" fill="url(#bb)"/>
<rect x="551.5" y="637" width="199.5" height="2" fill="url(#bb)"/>
<rect x="551.5" y="639" width="199.5" height="2" fill="url(#bb)"/>
<rect x="551.5" y="641" width="199.5" height="2" fill="url(#bb)"/>
<rect x="551.5" y="643" width="199.5" height="2" fill="url(#bb)"/>
<rect x="551.5" y="645" width="199.5" height="2" fill="url(#bb)"/>
<rect x="551.5" y="647" width="199.5" height="2" fill="url(#bb)"/>
<rect x="551.5" y="649" width="199.5" height="2" fill="url(#bb)"/>
<rect x="551.5" y="651" width="199.5" height="2" fill="url(#bb)"/>
<rect x="551.5" y="653" width="199.5" height="2" fill="url(#bb)"/>
<rect x="551.5" y="655" width="199.5" height="2" fill="url(#bb)"/>
<rect x="551.5" y="657" width="199.5" height="2" fill="url(#bb)"/>
<rect x="551.5" y="659" width="199.5" height="2" fill="url(#bb)"/>
<rect x="551.5" y="661" width="199.5" height="2" fill="url(#bb)"/>
<rect x="551.5" y="663" width="199.5" height="2" fill="url(#bb)"/>
<rect x="551.5" y="665" width="199.5" height="2" fill="url(#bb)"/>
<rect x="551.5" y="667" width="199.5" height="2" fill="url(#bb)"/>
<rect x="551.5" y="669" width="199.5" height="2" fill="url(#bb)"/>
<rect x="551.5" y="671" width="199.5" height="2" fill="url(#bb)"/>
<rect x="551.5" y="673" width="199.5" height="2" fill="url(#bb)"/>
<rect x="551.5" y="675" width="199.5" height="2" fill="url(#bb)"/>
<rect x="551.5" y="677" width="199.5" height="2" fill="url(#bb)"/>
<rect x="551.5" y="679" width="199.5" height="2" fill="url(#bb)"/>
<rect x="551.5" y="681" width="199.5" height="2" fill="url(#bb)"/>
<rect x="551.5" y="683" width="199.5" height="2" fill="url(#bb)"/>
<rect x="551.5" y="685" width="199.5" height="2" fill="url(#bb)"/>
<rect x="551.5" y="687" width="199.5" height="2" fill="url(#bb)"/>
<rect x="551.5" y="689" width="199.5" height="2" fill="url(#bb)"/>
<rect x="551.5" y="691" width="199.5" height="2" fill="url(#bb)"/>
<rect x="551.5" y="693" width="199.5" height="2" fill="url(#bb)"/>
<rect x="551.5" y="695" width="199.5" height="2" fill="url(#bb)"/>
<rect x="551.5" y="697" width="199.5" height="2" fill="url(#bb)"/>
<rect x="551.5" y="699" width="199.5" height="2" fill="url(#bb)"/>
<rect x="551.5" y="701" width="199.5" height="2" fill="url(#bb)"/>
<rect x="551.5" y="703" width="199.5" height="2" fill="url(#bb)"/>
<rect x="551.5" y="705" width="199.5" height="2" fill="url(#bb)"/>
<rect x="551.5" y="707" width="199.5" height="2" fill="url(#bb)"/>
<rect x="551.5" y="709" width="199.5" height="2" fill="url(#bb)"/>
<rect x="551.5" y="711" width="199.5" height="2" fill="url(#bb)"/>
<rect x="551.5" y="713" width="199.5" height="2" fill="url(#bb)"/>
<rect x="551.5" y="715" width="199.5" height="2" fill="url(#bb)"/>
<rect x="551.5" y="717" width="199.5" height="2" fill="url(#bb)"/>
<rect x="551.5" y="719" width="199.5" height="2" fill="url(#bb)"/>
<rect x="551.5" y="721" width="199.5" height="2" fill="url(#bb)"/>
<rect x="551.5" y="723" width="199.5" height="2" fill="url(#bb)"/>
<rect x="551.5" y="725" width="199.5" height="2" fill="url(#bb)"/>
<rect x="551.5" y="727" width="199.5" height="2" fill="url(#bb)"/>
<rect x="551.5" y="729" width="199.5" height="2" fill="url(#bb)"/>
<rect x="551.5" y="731" width="199.5" height="2" fill="url(#bb)"/>
<rect x="551.5" y="733" width="199.5" height="2" fill="url(#bb)"/>
<rect x="551.5" y="735" width="199.5" height="2" fill="url(#bb)"/>
<rect x="551.5" y="737" width="199.5" height="2" fill="url(#bb)"/>
<rect x="551.5" y="739" width="199.5" height="2" fill="url(#bb)"/>
<rect x="551.5" y="741" width="199.5" height="2" fill="url(#bb)"/>
<rect x="551.5" y="743" width="199.5" height="2" fill="url(#bb)"/>
<rect x="551.5" y="745" width="199.5" height="2" fill="url(#bb)"/>
<rect x="551.5" y="747" width="199.5" height="2" fill="url(#bb)"/>
<rect x="551.5" y="749" width="199.5" height="2" fill="url(#bb)"/>
<rect x="551.5" y="751" width="199.5" height="2" fill="url(#bb)"/>
<rect x="551.5" y="753" width="199.5" height="2" fill="url(#bb)"/>
<rect x="551.5" y="755" width="199.5" height="2" fill="url(#bb)"/>
<rect x="551.5" y="757" width="199.5" height="2" fill="url(#bb)"/>
<rect x="551.5" y="759" width="199.5" height="2" fill="url(#bb)"/>
<rect x="593.5" y="92" width="118" height="14" fill="url(#gNeckTop)"/>
<g clip-path="url(#cpOutline)">
<rect x="540" y="88" width="220" height="672" filter="url(#fNoise)" opacity="0.13"/>
<rect x="540" y="88" width="220" height="672" filter="url(#fNoise2)" opacity="0.16"/>
</g>
<path d="M551,741 C553,745 560,748 575,749.5 Q651,755 728,749.5 C743,748 749,745 751,741 L751,770 L551,770 Z" fill="url(#gBottom)"/>
</g>

<!-- cap -->
<clipPath id="cpCap"><path d="M582.5,58 C582,50 586,44 598,41.5 Q651,34.5 705,41.5 C717,44 721.5,50 721.5,58 C723.5,59 724,61 724,64.5 C724,68 723,70 721.5,71 L721,86 C720,88 719,89 719,92 C719,95 717.5,97.5 713,98 Q651,87 591,98 C586.5,97.5 584,95 584,92 C584,89 583,88 582,86 L582,71 C580.5,70 579.5,68 579.5,64.5 C579.5,61 580.5,59 582.5,58 Z"/></clipPath>
<g clip-path="url(#cpCap)">
<rect x="570" y="30" width="165" height="75" fill="#777"/>
<path d="M572,43.75 Q651.5,33.75 731,43.75" stroke="#2a2a2a" stroke-width="2.1" fill="none"/>
<path d="M572,45.75 Q651.5,35.75 731,45.75" stroke="#555" stroke-width="3.1" fill="none"/>
<path d="M572,48.5 Q651.5,38.5 731,48.5" stroke="#7a7a7a" stroke-width="3.6" fill="none"/>
<path d="M572,52.0 Q651.5,42.0 731,52.0" stroke="#8a8a8a" stroke-width="4.6" fill="none"/>
<path d="M572,56.0 Q651.5,46.0 731,56.0" stroke="#3e3e3e" stroke-width="4.6" fill="none"/>
<path d="M572,63.5 Q651.5,53.5 731,63.5" stroke="#181818" stroke-width="11.6" fill="none"/>
<path d="M572,70.25 Q651.5,60.25 731,70.25" stroke="#cfcfcf" stroke-width="3.1" fill="none"/>
<path d="M572,74.75 Q651.5,64.75 731,74.75" stroke="#5e5e5e" stroke-width="7.1" fill="none"/>
<path d="M572,80.5 Q651.5,70.5 731,80.5" stroke="#8e8e8e" stroke-width="5.6" fill="none"/>
<path d="M572,85.0 Q651.5,75.0 731,85.0" stroke="#b0b0b0" stroke-width="4.6" fill="none"/>
<path d="M572,88.25 Q651.5,78.25 731,88.25" stroke="#505050" stroke-width="3.1" fill="none"/>
<path d="M572,93.0 Q651.5,83.0 731,93.0" stroke="#dcdcdc" stroke-width="7.6" fill="none"/>
<path d="M572,97.5 Q651.5,87.5 731,97.5" stroke="#555" stroke-width="2.6" fill="none"/>
<ellipse cx="652" cy="44" rx="20" ry="3.5" fill="url(#gHi)"/>
<ellipse cx="650" cy="66" rx="34" ry="2.2" fill="url(#gHi)"/>
<rect x="570" y="30" width="165" height="75" fill="url(#gEdgeH)"/>
<path d="M572,93.3 Q651.5,83.3 731,93.3" stroke="#e0e0e0" stroke-width="8" fill="none"/>
<path d="M572,97.6 Q651.5,87.6 731,97.6" stroke="#888" stroke-width="1" fill="none" opacity="0.6"/>
</g>
<path d="M582.5,58 C582,50 586,44 598,41.5 Q651,34.5 705,41.5 C717,44 721.5,50 721.5,58" fill="none" stroke="#2a2a2a" stroke-width="1.8"/>

<!-- inner window -->
<path d="M552,374 L671,374 L671,630.5 Q612,626 552,628 Z" fill="url(#gGlass)"/>
<rect x="552" y="374" width="119" height="200" fill="url(#gGlassTopDark)"/>
<rect x="625" y="374" width="46" height="256" fill="url(#gDark)" mask="url(#mTopFade)"/>
<rect x="671" y="374" width="20" height="256" fill="url(#gShadowR)"/>
<g>
<circle cx="641.3" cy="415.7" r="1.2" fill="#e8e8e8" opacity="0.52"/>
<circle cx="661.7" cy="401.5" r="1.0" fill="#e8e8e8" opacity="0.53"/>
<circle cx="648.8" cy="387.4" r="0.9" fill="#e8e8e8" opacity="0.69"/>
<circle cx="637.9" cy="515.8" r="0.6" fill="#e8e8e8" opacity="0.87"/>
<circle cx="633.1" cy="433.8" r="1.2" fill="#e8e8e8" opacity="0.76"/>
<circle cx="630.5" cy="524.4" r="0.6" fill="#e8e8e8" opacity="0.94"/>
<circle cx="629.9" cy="592.6" r="0.8" fill="#e8e8e8" opacity="0.69"/>
<circle cx="650.2" cy="520.7" r="1.0" fill="#e8e8e8" opacity="0.87"/>
<circle cx="635.4" cy="523.4" r="1.2" fill="#e8e8e8" opacity="0.58"/>
<circle cx="632.0" cy="556.0" r="1.0" fill="#e8e8e8" opacity="0.53"/>
<circle cx="636.4" cy="548.1" r="0.9" fill="#e8e8e8" opacity="0.85"/>
<circle cx="647.1" cy="608.9" r="0.8" fill="#e8e8e8" opacity="0.63"/>
<circle cx="660.6" cy="552.7" r="0.7" fill="#e8e8e8" opacity="0.54"/>
<circle cx="640.3" cy="501.8" r="0.8" fill="#e8e8e8" opacity="0.83"/>
<circle cx="639.8" cy="623.0" r="0.6" fill="#e8e8e8" opacity="0.73"/>
<circle cx="634.8" cy="463.5" r="0.9" fill="#e8e8e8" opacity="0.69"/>
<circle cx="667.4" cy="397.4" r="1.0" fill="#e8e8e8" opacity="0.76"/>
<circle cx="663.9" cy="456.4" r="1.2" fill="#e8e8e8" opacity="0.66"/>
<circle cx="648.4" cy="577.2" r="0.6" fill="#e8e8e8" opacity="0.88"/>
<circle cx="666.7" cy="496.5" r="1.2" fill="#e8e8e8" opacity="0.53"/>
<circle cx="658.0" cy="455.4" r="1.0" fill="#e8e8e8" opacity="0.95"/>
<circle cx="661.7" cy="449.1" r="0.9" fill="#e8e8e8" opacity="0.90"/>
<circle cx="642.2" cy="613.2" r="0.8" fill="#e8e8e8" opacity="0.58"/>
<circle cx="632.8" cy="392.7" r="0.8" fill="#e8e8e8" opacity="0.56"/>
<circle cx="638.2" cy="475.7" r="0.9" fill="#e8e8e8" opacity="0.54"/>
<circle cx="646.4" cy="515.4" r="0.7" fill="#e8e8e8" opacity="0.87"/>
<circle cx="663.4" cy="447.6" r="0.9" fill="#e8e8e8" opacity="0.94"/>
<circle cx="656.0" cy="473.1" r="0.7" fill="#e8e8e8" opacity="0.57"/>
<circle cx="635.2" cy="436.0" r="0.7" fill="#e8e8e8" opacity="0.51"/>
<circle cx="662.1" cy="423.6" r="0.8" fill="#e8e8e8" opacity="0.50"/>
<circle cx="645.2" cy="470.3" r="1.0" fill="#e8e8e8" opacity="0.64"/>
<circle cx="633.1" cy="592.8" r="1.0" fill="#e8e8e8" opacity="0.79"/>
<circle cx="658.3" cy="492.2" r="1.2" fill="#e8e8e8" opacity="0.86"/>
<circle cx="644.1" cy="477.7" r="0.6" fill="#e8e8e8" opacity="0.72"/>
<circle cx="644.4" cy="425.7" r="0.7" fill="#e8e8e8" opacity="0.70"/>
<circle cx="632.5" cy="528.2" r="0.6" fill="#e8e8e8" opacity="0.50"/>
<circle cx="634.2" cy="403.4" r="0.8" fill="#e8e8e8" opacity="0.78"/>
<circle cx="630.9" cy="430.0" r="0.9" fill="#e8e8e8" opacity="0.57"/>
<circle cx="638.3" cy="464.8" r="0.8" fill="#e8e8e8" opacity="0.71"/>
<circle cx="632.7" cy="500.0" r="0.9" fill="#e8e8e8" opacity="0.72"/>
<circle cx="640.8" cy="414.0" r="1.2" fill="#e8e8e8" opacity="0.65"/>
<circle cx="638.9" cy="585.2" r="0.7" fill="#e8e8e8" opacity="0.73"/>
<circle cx="636.4" cy="616.0" r="0.8" fill="#e8e8e8" opacity="0.57"/>
<circle cx="650.3" cy="384.8" r="1.0" fill="#e8e8e8" opacity="0.63"/>
<circle cx="654.4" cy="400.8" r="0.8" fill="#e8e8e8" opacity="0.73"/>
<circle cx="665.2" cy="466.9" r="0.7" fill="#e8e8e8" opacity="0.74"/>
<circle cx="659.9" cy="460.4" r="0.7" fill="#e8e8e8" opacity="0.78"/>
<circle cx="660.3" cy="567.6" r="0.7" fill="#e8e8e8" opacity="0.86"/>
<circle cx="661.6" cy="563.0" r="0.7" fill="#e8e8e8" opacity="0.59"/>
<circle cx="648.2" cy="560.8" r="0.6" fill="#e8e8e8" opacity="0.86"/>
<circle cx="647.4" cy="426.4" r="1.0" fill="#e8e8e8" opacity="0.93"/>
<circle cx="646.3" cy="612.3" r="0.8" fill="#e8e8e8" opacity="0.93"/>
<circle cx="643.0" cy="433.1" r="0.7" fill="#e8e8e8" opacity="0.71"/>
<circle cx="641.8" cy="498.7" r="1.0" fill="#e8e8e8" opacity="0.88"/>
<circle cx="647.7" cy="541.2" r="1.2" fill="#e8e8e8" opacity="0.54"/>
<circle cx="655.1" cy="605.4" r="1.2" fill="#e8e8e8" opacity="0.84"/>
<circle cx="647.6" cy="422.6" r="1.2" fill="#e8e8e8" opacity="0.65"/>
<circle cx="660.8" cy="620.9" r="0.9" fill="#e8e8e8" opacity="0.71"/>
<circle cx="658.5" cy="399.2" r="0.7" fill="#e8e8e8" opacity="0.58"/>
<circle cx="633.2" cy="415.8" r="0.9" fill="#e8e8e8" opacity="0.86"/>
<circle cx="634.0" cy="584.6" r="0.9" fill="#e8e8e8" opacity="0.80"/>
<circle cx="642.4" cy="515.2" r="0.7" fill="#e8e8e8" opacity="0.51"/>
<circle cx="660.8" cy="559.6" r="0.6" fill="#e8e8e8" opacity="0.74"/>
<circle cx="666.3" cy="486.5" r="0.7" fill="#e8e8e8" opacity="0.87"/>
<circle cx="636.7" cy="441.0" r="0.8" fill="#e8e8e8" opacity="0.73"/>
<circle cx="659.3" cy="459.5" r="1.0" fill="#e8e8e8" opacity="0.69"/>
<circle cx="633.4" cy="605.5" r="0.8" fill="#e8e8e8" opacity="0.90"/>
<circle cx="655.2" cy="581.8" r="1.0" fill="#e8e8e8" opacity="0.69"/>
<circle cx="665.6" cy="503.4" r="1.0" fill="#e8e8e8" opacity="0.57"/>
<circle cx="648.9" cy="596.2" r="0.7" fill="#e8e8e8" opacity="0.77"/>
<circle cx="650" cy="595" r="2.3" fill="none" stroke="#dcdcdc" stroke-width="0.8" opacity="0.9"/>
<circle cx="639" cy="608" r="1.4" fill="none" stroke="#dcdcdc" stroke-width="0.8" opacity="0.9"/>
<circle cx="617" cy="577" r="1.8" fill="none" stroke="#dcdcdc" stroke-width="0.8" opacity="0.9"/>
<circle cx="585" cy="612" r="1.3" fill="none" stroke="#dcdcdc" stroke-width="0.8" opacity="0.9"/>
<circle cx="598" cy="627" r="1.2" fill="none" stroke="#dcdcdc" stroke-width="0.8" opacity="0.9"/>
<circle cx="575" cy="600" r="1.1" fill="none" stroke="#dcdcdc" stroke-width="0.8" opacity="0.9"/>
<circle cx="662" cy="604" r="1.5" fill="none" stroke="#dcdcdc" stroke-width="0.8" opacity="0.9"/>
<circle cx="657" cy="574" r="1.2" fill="none" stroke="#dcdcdc" stroke-width="0.8" opacity="0.9"/>
</g>

<!-- red copper panel -->
<path d="M509.6,306 Q567.5,293 625,308 L625,568 Q567.5,553 509.6,567 Z" fill="#ca5747"/>
<!-- blue vacuum panel -->
<path d="M470.5,239 Q528,225 586,239 L586,497.6 Q528,485 470.5,497.6 Z" fill="#dff0fc"/>
<!-- silver outer panel -->
<path d="M419.5,165.7 Q477,152.5 534.5,166.6 L534.5,424.4 Q477,408.6 419.5,424.4 Z" fill="url(#gSilver)"/>
<path d="M419.5,165.7 Q477,152.5 534.5,166.6 L534.5,424.4 Q477,408.6 419.5,424.4 Z" fill="url(#gShadeV)"/>
<clipPath id="cpSilver"><path d="M419.5,165.7 Q477,152.5 534.5,166.6 L534.5,424.4 Q477,408.6 419.5,424.4 Z"/></clipPath>
<g clip-path="url(#cpSilver)">
<rect x="415" y="150" width="125" height="280" filter="url(#fNoise)" opacity="0.12"/>
<rect x="415" y="150" width="125" height="280" filter="url(#fNoise2)" opacity="0.15"/>
</g>

<!-- logo -->
<rect x="617.6" y="692.6" width="73.4" height="29.4" rx="4" fill="none" stroke="#c0c0c0" stroke-width="1.3"/>
<text x="624" y="712" textLength="44.5" lengthAdjust="spacingAndGlyphs" style="font-size:14px;font-weight:bold;fill:#c6c6c6">LURCH</text>
<path d="M683.5,696.5 C680,697.5 676.5,700.5 678,704.5 C679.5,708 683.5,709.5 681.5,713.5 C679.5,717.5 673,719 669.5,716.8 C667.5,715.3 667.5,713.3 668.8,712" fill="none" stroke="#c0c0c0" stroke-width="1.7" stroke-linecap="round"/>
<path d="M677.2,701.2 L674,699.8 M679,702.8 L683,701.3 M680.2,710.3 L676.3,711.5 M682,712.3 L685,714" fill="none" stroke="#c0c0c0" stroke-width="1.2" stroke-linecap="round"/>
<circle cx="683.8" cy="696.6" r="1.3" fill="#c0c0c0"/>

<!-- dashed leaders -->
<g stroke="#e6d73a" stroke-width="3" stroke-dasharray="5.4 4.18" stroke-dashoffset="2.3">
  <line x1="296" y1="393" x2="477" y2="393"/>
  <line x1="296" y1="465.5" x2="527" y2="465.5"/>
  <line x1="296" y1="537.5" x2="563" y2="537.5"/>
  <line x1="296" y1="609.5" x2="601" y2="609.5"/>
</g>
<g fill="#e6d73a">
  <circle cx="477.4" cy="393" r="6.1"/>
  <circle cx="527.8" cy="465.5" r="6.1"/>
  <circle cx="563.7" cy="537.5" r="6.1"/>
  <circle cx="601.3" cy="609.5" r="6.1"/>
</g>

<!-- labels -->
<g style="font-size:19.8px">
  <text x="31.5" y="396.4" textLength="254" lengthAdjust="spacingAndGlyphs">Lake Boyanmış Paslanmaz</text>
  <text x="143.5" y="419.4" textLength="142" lengthAdjust="spacingAndGlyphs">Çelik Dış Duvar</text>
  <text x="217.5" y="471.5" textLength="68.5" lengthAdjust="spacingAndGlyphs">Vakum</text>
  <text x="146.5" y="543.8" textLength="138.2" lengthAdjust="spacingAndGlyphs">Bakır Kaplama</text>
  <text x="45" y="615.6" textLength="240" lengthAdjust="spacingAndGlyphs">Paslanmaz Çelik İç Duvar</text>
</g>
</svg>
</body></html>
